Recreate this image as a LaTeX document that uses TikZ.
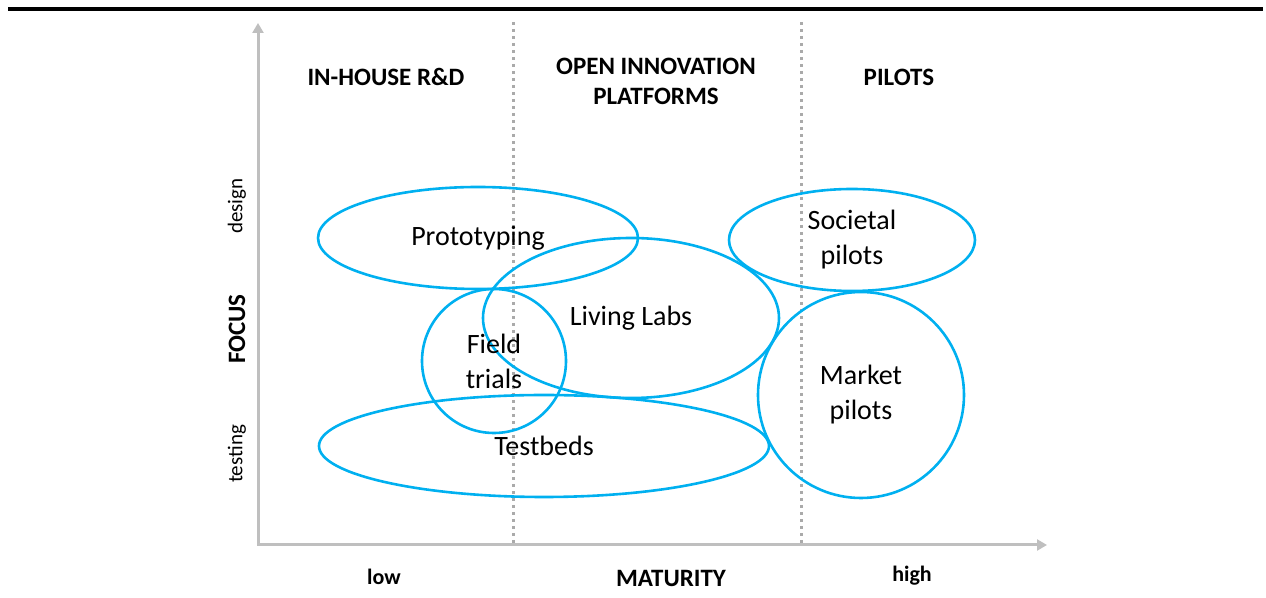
\documentclass[tikz,border=0pt]{standalone}
\usepackage{fontspec}
\setmainfont{Carlito}
\usetikzlibrary{positioning, arrows.meta, shapes.geometric}
\definecolor{BubbleColor}{RGB}{0,176,240}
\definecolor{AxisColor}{RGB}{191,191,191}
\definecolor{GridColor}{RGB}{170,170,170}
\tikzset{
  bubble/.style={draw=BubbleColor, line width=1.3pt, ellipse, inner sep=0pt, align=center,
    font=\fontsize{14}{17.5}\selectfont},
  axis/.style={AxisColor, line width=1.5pt, {Triangle[width=5.5pt,length=5pt]}-{Triangle[width=5.5pt,length=5pt]}},
  divider/.style={GridColor, line width=1.5pt, dash pattern=on 1.5pt off 2pt},
  header/.style={font=\fontsize{12.5}{15}\selectfont\bfseries, align=center},
  focuslabel/.style={rotate=90, font=\fontsize{10.5}{12}\selectfont}
}

\begin{document}
\begin{tikzpicture}[x=0.5pt, y=-0.5pt]
  \useasboundingbox (0,0) rectangle (1266,598);

  % Top rule
  \draw[line width=2.25pt] (8,9) -- (1263,9);

  % Axes
  \coordinate (ytop) at (258,23);
  \coordinate (xend) at (1047,545);
  \draw[axis] (ytop) |- (xend);

  % Dividers
  \coordinate (divA) at (513,22);
  \coordinate (divB) at (801,22);
  \draw[divider] (divA) -- (divA |- xend);
  \draw[divider] (divB) -- (divB |- xend);

  % Column headers
  \node[header] (inhouse) at (386,77) {IN-HOUSE R\&D};
  \node[header] (openinno) at (656,81) {OPEN INNOVATION\\PLATFORMS};
  \node[header] (pilots) at (899,77) {PILOTS};

  % Focus axis labels
  \node[focuslabel] (design) at (237,206) {design};
  \node[focuslabel, font=\fontsize{12.5}{15}\selectfont\bfseries] (focus) at (237,329) {FOCUS};
  \node[focuslabel] (testing) at (237,454) {testing};

  % Maturity axis labels
  \node[font=\fontsize{11}{13}\selectfont\bfseries] (low) at (384,577) {low};
  \node[header] (maturity) at (671,578) {MATURITY};
  \node[font=\fontsize{11}{13}\selectfont\bfseries] (high) at (912,576) {high};

  % Bubbles
  \node[bubble, minimum width=160pt, minimum height=51pt] (proto) at (478,238) {Prototyping};
  \node[bubble, minimum width=148pt, minimum height=80pt] (living) at (631,318) {Living Labs};
  \node[bubble, circle, minimum size=72pt] (field) at (494,361) {Field\\trials};
  \node[bubble, minimum width=225pt, minimum height=51pt] (testbeds) at (544,446) {Testbeds};
  \node[bubble, minimum width=123pt, minimum height=51pt] (societal) at (852,240) {Societal\\pilots};
  \node[bubble, circle, minimum size=103pt] (market) at (861,395) {Market\\pilots};
\end{tikzpicture}
\end{document}
